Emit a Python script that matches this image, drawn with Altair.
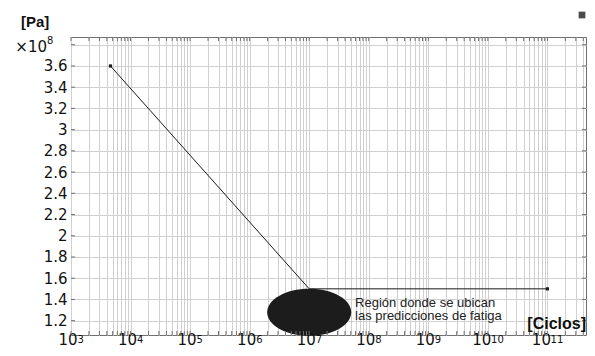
import altair as alt
import pandas as pd

# ---- data ----
cycles = [4.6e3, 1.0e7, 1.0e11]          # N [Ciclos]
stress = [3.6, 1.5, 1.5]                 # S [Pa] x 10^8

ellipse_x = [1.0e7]
ellipse_y = [1.28]

note_lines = ["Región donde se ubican", "las predicciones de fatiga"]
note_x = [5.9e7, 5.9e7]
note_y = [1.329, 1.202]

x_decades = [1e3, 1e4, 1e5, 1e6, 1e7, 1e8, 1e9, 1e10, 1e11]
x_exponents = ["3", "4", "5", "6", "7", "8", "9", "10", "11"]
X_DOMAIN = [1e3, 4.45e11]
Y_DOMAIN = [1.065, 3.873]
x_minor = [float(m * 10 ** e) for e in range(3, 12) for m in range(1, 10) if m * 10 ** e <= X_DOMAIN[1]]
y_ticks = [1.2, 1.4, 1.6, 1.8, 2.0, 2.2, 2.4, 2.6, 2.8, 3.0, 3.2, 3.4, 3.6, 3.8]

W, H = 515, 298

line_df = pd.DataFrame({"cycles": cycles, "stress": stress})
end_df = line_df.iloc[[0, len(line_df) - 1]]
ell_df = pd.DataFrame({"cycles": ellipse_x, "stress": ellipse_y})
note_df = pd.DataFrame({"cycles": note_x, "stress": note_y, "txt": note_lines})
xt_df = pd.DataFrame({"cycles": x_minor})
yt_df = pd.DataFrame({"stress": y_ticks})
dec_df = pd.DataFrame({"cycles": x_decades, "e": x_exponents})
dec1 = dec_df[dec_df["e"].str.len() == 1]
dec2 = dec_df[dec_df["e"].str.len() == 2]
one = pd.DataFrame({"a": [0]})

xs = alt.Scale(type="log", domain=X_DOMAIN, nice=False)
ys = alt.Scale(domain=Y_DOMAIN, nice=False, zero=False)

x_axis = alt.Axis(values=x_minor, labels=False, grid=True, ticks=False, tickSize=0,
                  domain=False, title=None)
y_axis = alt.Axis(values=y_ticks, labelExpr="datum.value > 3.7 ? '' : format(datum.value, '.1~f')",
                  grid=True, ticks=False, tickSize=0, domain=False, labelFontSize=15,
                  labelPadding=4, title=None, labelOverlap=False)

X = alt.X("cycles:Q", scale=xs, axis=x_axis, title=None)
Y = alt.Y("stress:Q", scale=ys, axis=y_axis, title=None)

line = alt.Chart(line_df).mark_line(color="#1a1a1a", strokeWidth=1).encode(x=X, y=Y)
ends = alt.Chart(end_df).mark_point(shape="square", filled=True, size=10, color="#1a1a1a",
                                    opacity=1).encode(x=X, y=Y)
ell_path = "M-1,0A1,0.56,0,1,1,1,0A1,0.56,0,1,1,-1,0Z"
ellipse = alt.Chart(ell_df).mark_point(shape=ell_path, filled=True, color="#1c1c1c", opacity=1,
                                       size=84 * 84, strokeWidth=0).encode(x=X, y=Y)
note = alt.Chart(note_df).mark_text(align="left", baseline="alphabetic", font="Liberation Sans",
                                    fontSize=13, color="#222").encode(x=X, y=Y, text="txt:N")

# decade labels: "10" plus a raised exponent
lab_style = dict(font="DejaVu Sans", color="#111", baseline="alphabetic")
base1 = alt.Chart(dec1).mark_text(text="10", align="center", fontSize=15, dx=-3, **lab_style).encode(
    x=X, y=alt.value(H + 10))
base2 = alt.Chart(dec2).mark_text(text="10", align="center", fontSize=15, dx=-6, **lab_style).encode(
    x=X, y=alt.value(H + 10))
exp1 = alt.Chart(dec1).mark_text(align="left", fontSize=10, dx=6.5, **lab_style).encode(
    x=X, y=alt.value(H + 8), text="e:N")
exp2 = alt.Chart(dec2).mark_text(align="left", fontSize=10, dx=3.2, **lab_style).encode(
    x=X, y=alt.value(H + 8), text="e:N")

tick_col = "#707070"
xt_bottom = alt.Chart(xt_df).mark_rule(color=tick_col, strokeWidth=1).encode(
    x=X, y=alt.value(H), y2=alt.value(H - 4))
xt_top = alt.Chart(xt_df).mark_rule(color=tick_col, strokeWidth=1).encode(
    x=X, y=alt.value(0), y2=alt.value(4))
yt_left = alt.Chart(yt_df).mark_rule(color=tick_col, strokeWidth=1).encode(
    y=Y, x=alt.value(0), x2=alt.value(4))
yt_right = alt.Chart(yt_df).mark_rule(color=tick_col, strokeWidth=1).encode(
    y=Y, x=alt.value(W - 4), x2=alt.value(W))

pa = alt.Chart(one).mark_text(text="[Pa]", align="left", baseline="middle", font="Liberation Sans",
                              fontWeight="bold", fontSize=15, color="#111").encode(
    x=alt.value(-50), y=alt.value(-15))
exp10 = alt.Chart(one).mark_text(text="×10", align="right", baseline="middle", font="DejaVu Sans",
                                 fontSize=15, color="#111").encode(
    x=alt.value(-24), y=alt.value(10))
exp8 = alt.Chart(one).mark_text(text="8", align="left", baseline="middle", font="DejaVu Sans",
                                fontSize=10, color="#111").encode(
    x=alt.value(-24), y=alt.value(4))
ciclos = alt.Chart(one).mark_text(text="[Ciclos]", align="right", baseline="middle", font="Liberation Sans",
                                  fontWeight="bold", fontSize=16, color="#111").encode(
    x=alt.value(W), y=alt.value(287))
icon = alt.Chart(one).mark_point(shape="square", filled=True, size=45, color="#4a4a4a", opacity=1).encode(
    x=alt.value(511), y=alt.value(-22))

chart = alt.layer(
    line, ellipse, ends, note, base1, base2, exp1, exp2,
    xt_bottom, xt_top, yt_left, yt_right, pa, exp10, exp8, ciclos, icon
).properties(
    width=W, height=H, autosize="none",
    padding={"left": 63, "top": 29, "right": 1, "bottom": 13},
).configure_view(
    stroke="#707070", strokeWidth=1
).configure_axis(
    gridColor="#d0d0d0", gridWidth=1, gridOpacity=1, labelFont="DejaVu Sans", labelColor="#111"
)

chart.save("out.html", embed_options={"renderer": "svg", "actions": False})
